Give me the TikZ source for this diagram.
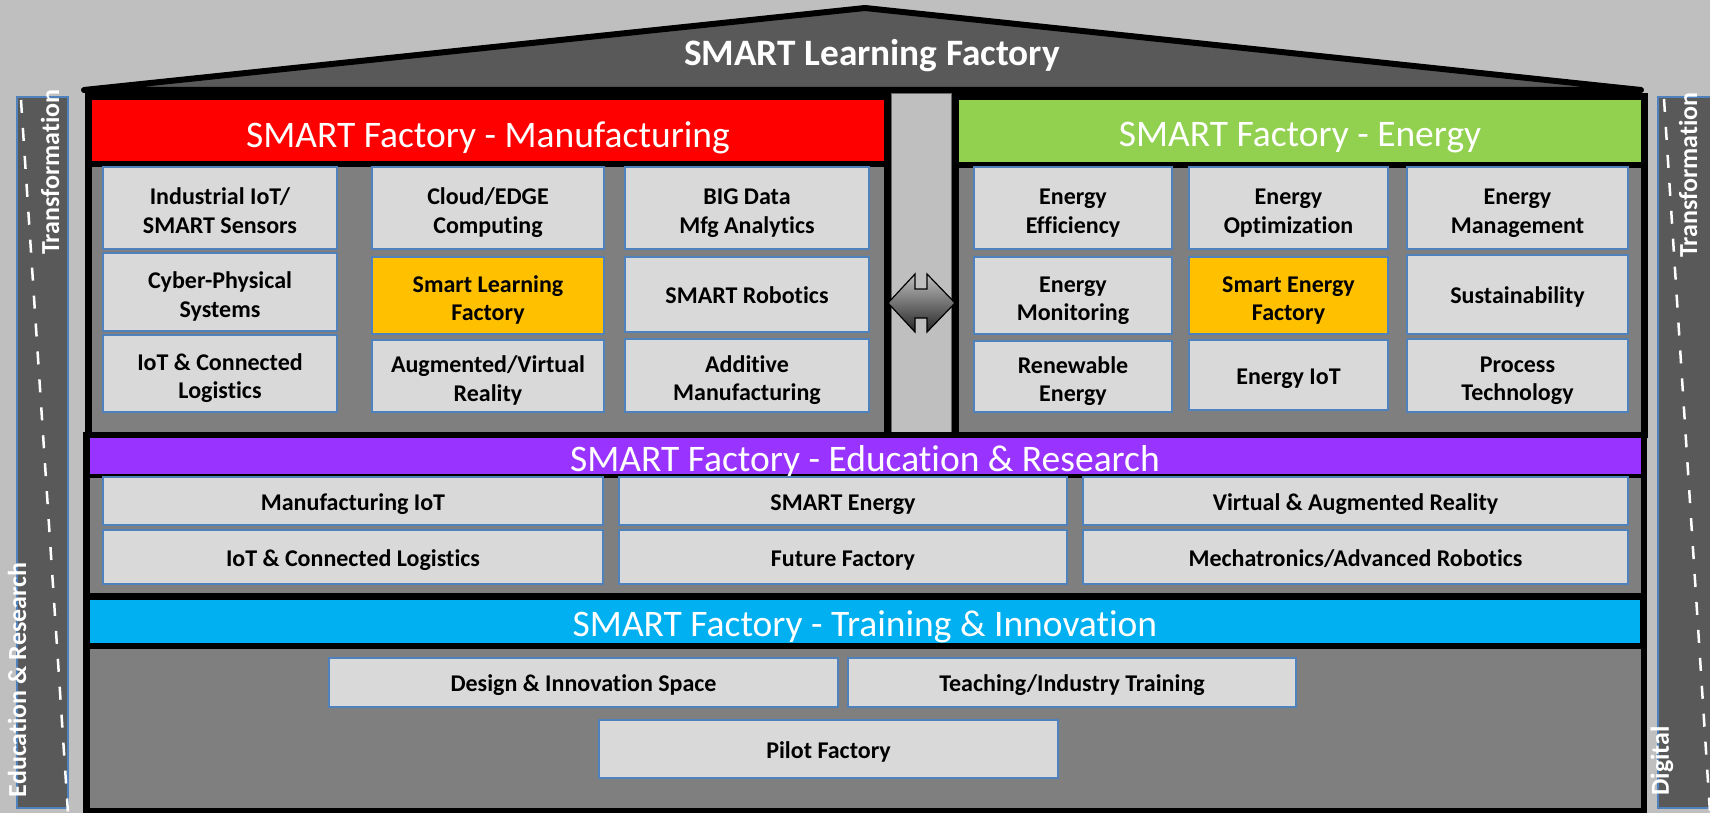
\documentclass[tikz,border=0pt]{standalone}
\usepackage{fontspec}
\setmainfont{Carlito}[Ligatures={NoCommon}]
\usetikzlibrary{shadows}
\definecolor{bg}{HTML}{BFBFBF}
\definecolor{roofgray}{HTML}{595959}
\definecolor{panel}{HTML}{7F7F7F}
\definecolor{boxfill}{HTML}{D9D9D9}
\definecolor{boxline}{HTML}{4F81BD}
\definecolor{hly}{HTML}{FFC000}
\definecolor{hred}{HTML}{FF0000}
\definecolor{hgreen}{HTML}{92D050}
\definecolor{hpurple}{HTML}{9933FF}
\definecolor{hcyan}{HTML}{00B0F0}
% one-line and two-line box texts, padded on top so that they sit a little low
\newcommand{\bxt}[1]{\raisebox{0pt}[\dimexpr\height+7.5pt\relax][\depth]{\begin{tabular}{@{}c@{}}#1\end{tabular}}}
\newcommand{\bxtt}[1]{\raisebox{0pt}[\dimexpr\height+11pt\relax][\depth]{\begin{tabular}{@{}c@{}}#1\end{tabular}}}
\tikzset{
  box/.style={draw=boxline, line width=1.5pt, fill=boxfill, inner sep=0pt,
    font=\bfseries\fontsize{24}{28.5}\selectfont,
    drop shadow={shadow xshift=2.5pt, shadow yshift=-2.5pt, opacity=0.45}},
  hlbox/.style={box, fill=hly},
  headtext/.style={text=white, inner sep=0pt, font=\fontsize{37.5}{42}\selectfont},
  sidetext/.style={text=white, inner sep=0pt, rotate=90, font=\bfseries\fontsize{26}{30}\selectfont},
  sidebar/.style={fill=roofgray, draw=boxline, line width=1.5pt},
  sidedash/.style={draw=white, line width=2.5pt, dash pattern=on 13pt off 15pt},
  blackfill/.style={fill=black},
}
\begin{document}
\begin{tikzpicture}[x=1pt,y=-1pt]
\useasboundingbox (0,0) rectangle (1710,813);
\fill[bg] (0,0) rectangle (1710,813);

% side bars
\path[sidebar] (17,97) rectangle (68,808);
\draw[sidedash] (21,100) -- (68,813);
\path[sidebar] (1658,97) rectangle (1716,808);
\draw[sidedash] (1664,99) -- (1710,813);
\node[sidetext] (ltrans) at (50,172) {Transformation};
\node[sidetext] (ledu) at (17,680) {Education \& Research};
\node[sidetext] (rtrans) at (1688,175) {Transformation};
\node[sidetext] (rdig) at (1662,761) {Digital};

% roof
\filldraw[fill=roofgray, draw=black, line width=6pt, line join=round, line cap=round]
  (84,90) -- (865,8) -- (1641,90) -- cycle;
\node[text=white, inner sep=0pt, font=\bfseries\fontsize{37.3}{42}\selectfont] (title) at (872,56) {SMART Learning Factory};

% manufacturing block
\path[blackfill] (85,88) rectangle (891,438);
\fill[hred] (92,100) rectangle (884,161);
\fill[panel] (92,167) rectangle (884,432);
% middle column
\filldraw[fill=bg, draw=gray!80!black, line width=1pt] (891.5,94) rectangle (951.5,432);
% energy block
\path[blackfill] (952,93) rectangle (1648,438);
\fill[hgreen] (959,100) rectangle (1641,162);
\fill[panel] (959,168) rectangle (1641,432);
% education block
\path[blackfill] (83,432) rectangle (1647,600);
\fill[hpurple] (90,438) rectangle (1641,474);
\fill[panel] (90,478) rectangle (1641,593);
% training block
\path[blackfill] (83,593) rectangle (1647,813);
\fill[hcyan] (90,600) rectangle (1640,643);
\fill[panel] (90,649) rectangle (1641,808);

% headers
\node[headtext] (hman) at (488,138) {SMART Factory - Manufacturing};
\node[headtext] (hen) at (1300,138) {SMART Factory - Energy};
\node[headtext] (hedu) at (865,461) {SMART Factory - Education \& Research};
\node[headtext] (htr) at (865,627) {SMART Factory - Training \& Innovation};

% double arrow
\path[draw=black, line width=1.2pt, line join=miter, top color=gray!50, bottom color=black!85]
  (888,303) -- (915,274) -- (915,289) -- (927,289) -- (927,274) -- (955,303)
  -- (927,332) -- (927,318) -- (915,318) -- (915,332) -- cycle;

% manufacturing boxes
\node[box, minimum width=234, minimum height=82] (m11) at (220,208) {\bxtt{Industrial IoT/\\SMART Sensors}};
\node[box, minimum width=234, minimum height=78] (m21) at (220,292) {\bxtt{Cyber-Physical\\Systems}};
\node[box, minimum width=234, minimum height=77] (m31) at (220,373.5) {\bxtt{IoT \& Connected\\Logistics}};
\node[box, minimum width=232, minimum height=82] (m12) at (488,208) {\bxtt{Cloud/EDGE\\Computing}};
\node[hlbox, minimum width=232, minimum height=77] (m22) at (488,295.5) {\bxtt{Smart Learning\\Factory}};
\node[box, minimum width=232, minimum height=72] (m32) at (488,376) {\bxtt{Augmented/Virtual\\Reality}};
\node[box, minimum width=244, minimum height=82] (m13) at (747,208) {\bxtt{BIG Data\\Mfg Analytics}};
\node[box, minimum width=244, minimum height=75] (m23) at (747,294.5) {\bxt{SMART Robotics}};
\node[box, minimum width=244, minimum height=73] (m33) at (747,375.5) {\bxtt{Additive\\Manufacturing}};

% energy boxes
\node[box, minimum width=198, minimum height=82] (e11) at (1073,208) {\bxtt{Energy\\Efficiency}};
\node[box, minimum width=198, minimum height=77] (e21) at (1073,295.5) {\bxtt{Energy\\Monitoring}};
\node[box, minimum width=198, minimum height=71] (e31) at (1073,376.5) {\bxtt{Renewable\\Energy}};
\node[box, minimum width=199, minimum height=82] (e12) at (1288.5,208) {\bxtt{Energy\\Optimization}};
\node[hlbox, minimum width=199, minimum height=77] (e22) at (1288.5,295.5) {\bxtt{Smart Energy\\Factory}};
\node[box, minimum width=199, minimum height=70] (e32) at (1288.5,375) {\bxt{Energy IoT}};
\node[box, minimum width=221, minimum height=82] (e13) at (1517.5,208) {\bxtt{Energy\\Management}};
\node[box, minimum width=221, minimum height=79] (e23) at (1517.5,294.5) {\bxt{Sustainability}};
\node[box, minimum width=221, minimum height=73] (e33) at (1517.5,375.5) {\bxtt{Process\\Technology}};

% education boxes
\node[box, minimum width=500, minimum height=48] (d11) at (353,501) {\bxt{Manufacturing IoT}};
\node[box, minimum width=500, minimum height=54] (d21) at (353,557) {\bxt{IoT \& Connected Logistics}};
\node[box, minimum width=448, minimum height=48] (d12) at (843,501) {\bxt{SMART Energy}};
\node[box, minimum width=448, minimum height=54] (d22) at (843,557) {\bxt{Future Factory}};
\node[box, minimum width=545, minimum height=48] (d13) at (1355.5,501) {\bxt{Virtual \& Augmented Reality}};
\node[box, minimum width=545, minimum height=54] (d23) at (1355.5,557) {\bxt{Mechatronics/Advanced Robotics}};

% training boxes
\node[box, minimum width=509, minimum height=49] (t1) at (583.5,682.5) {\bxt{Design \& Innovation Space}};
\node[box, minimum width=448, minimum height=49] (t2) at (1072,682.5) {\bxt{Teaching/Industry Training}};
\node[box, minimum width=459, minimum height=58] (t3) at (828.5,749) {\bxt{Pilot Factory}};
\end{tikzpicture}
\end{document}
